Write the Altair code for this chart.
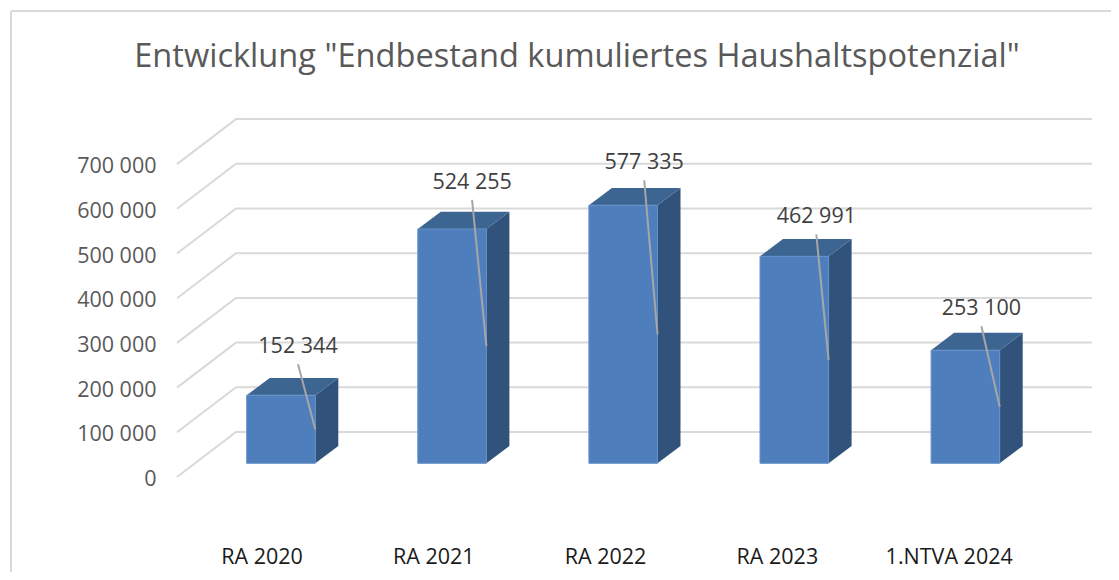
import altair as alt
import pandas as pd

categories = ["RA 2020", "RA 2021", "RA 2022", "RA 2023", "1.NTVA 2024"]
values = [152344, 524255, 577335, 462991, 253100]
value_labels = ["152 344", "524 255", "577 335", "462 991", "253 100"]
ticks = [0, 100000, 200000, 300000, 400000, 500000, 600000, 700000]
title = 'Entwicklung "Endbestand kumuliertes Haushaltspotenzial"'

# layout (plot-area pixels for x, value units for y)
W, H = 1100, 561
PX_PER_UNIT = 44.7 / 100000
ZERO_PAGE = 466            # plot-y of value 0 on the front edge
ydom = [(ZERO_PAGE - H) / PX_PER_UNIT, ZERO_PAGE / PX_PER_UNIT]
def dy(px):
    return px / PX_PER_UNIT

FLOOR_X0, FLOOR_X1, FLOOR_X2 = 166, 225, 1081
FLOOR_RISE = dy(45)
BAR_X0, BAR_W, PITCH = 235.7, 68.6, 171.1
BAR_DX, BAR_RISE, BAR_BASE = 23, dy(17.3), dy(13.7)
CAT_X0, CAT_PITCH, CAT_Y = 251, 171.8, dy(-81)
LABEL_DX = [17, 20, 21, 22, 16]
LABEL_DY = [48, 46, 42, 39, 41]
LEADER_GAP = 17

grid, front, side, top, labels, leaders, cats = [], [], [], [], [], [], []
for t in ticks:
    grid += [
        dict(t=t, o=0, x=FLOOR_X0, y=t),
        dict(t=t, o=1, x=FLOOR_X1, y=t + FLOOR_RISE),
        dict(t=t, o=2, x=FLOOR_X2, y=t + FLOOR_RISE),
    ]
for i, (c, v, lab) in enumerate(zip(categories, values, value_labels)):
    x0 = BAR_X0 + i * PITCH
    x1 = x0 + BAR_W
    yb = BAR_BASE
    yt = BAR_BASE + v
    front.append(dict(c=c, x=x0, x2=x1, y=yb, y2=yt))
    side += [
        dict(c=c, x=x1, y=yb, y2=yt),
        dict(c=c, x=x1 + BAR_DX, y=yb + BAR_RISE, y2=yt + BAR_RISE),
    ]
    top += [
        dict(c=c, y=yt, x=x0, x2=x1),
        dict(c=c, y=yt + BAR_RISE, x=x0 + BAR_DX, x2=x1 + BAR_DX),
    ]
    lx = x0 + BAR_W / 2 + LABEL_DX[i]
    ly = yt + dy(LABEL_DY[i])
    labels.append(dict(x=lx, y=ly, t=lab))
    leaders += [
        dict(c=c, o=0, x=lx, y=ly - dy(LEADER_GAP)),
        dict(c=c, o=1, x=x1, y=yb + v / 2),
    ]
    cats.append(dict(x=CAT_X0 + i * CAT_PITCH, y=CAT_Y, t=c))

FONT = "Open Sans"

xs = alt.Scale(domain=[0, W], range=[0, W], nice=False, zero=False)
ys = alt.Scale(domain=ydom, range=[H, 0], nice=False, zero=False)
y_axis = alt.Axis(
    values=ticks, domain=False, ticks=False, grid=False, title=None,
    labelExpr="replace(format(datum.value, ','), ',', ' ')",
    labelFont=FONT, labelFontSize=21.5, labelColor="#595959",
    labelPadding=0, labelOffset=2.5, offset=-145, labelBound=False, labelFlush=False,
)
X = lambda f="x": alt.X(f"{f}:Q", scale=xs, axis=None)
Y = lambda: alt.Y("y:Q", scale=ys, stack=None, axis=y_axis)

frame_left = alt.Chart(pd.DataFrame({"a": [0]})).mark_rule(color="#d9d9d9", strokeWidth=2).encode(
    x=alt.value(0), y=alt.value(0), y2=alt.value(H))
frame_top = alt.Chart(pd.DataFrame({"a": [0]})).mark_rule(color="#d9d9d9", strokeWidth=2).encode(
    y=alt.value(0), x=alt.value(0), x2=alt.value(W))

grid_layer = alt.Chart(pd.DataFrame(grid)).mark_line(color="#d9d9d9", strokeWidth=2).encode(
    x=X(), y=Y(), detail="t:N", order="o:Q")

side_layer = alt.Chart(pd.DataFrame(side)).mark_area(orient="vertical", color="#31527A").encode(
    x=X(), y=Y(), y2="y2:Q", detail="c:N")

top_layer = alt.Chart(pd.DataFrame(top)).mark_area(orient="horizontal", color="#3D6591").encode(
    y=Y(), x=X(), x2="x2:Q", detail="c:N")

front_layer = alt.Chart(pd.DataFrame(front)).mark_rect(
    color="#4E7FBC", stroke="#6491c8", strokeWidth=1
).encode(x=X(), x2="x2:Q", y=Y(), y2="y2:Q")

leader_layer = alt.Chart(pd.DataFrame(leaders)).mark_line(color="#a6a6a6", strokeWidth=2).encode(
    x=X(), y=Y(), detail="c:N", order="o:Q")

label_layer = alt.Chart(pd.DataFrame(labels)).mark_text(
    font=FONT, fontSize=21.5, color="#404040", align="center", baseline="middle"
).encode(x=X(), y=Y(), text="t:N")

cat_layer = alt.Chart(pd.DataFrame(cats)).mark_text(
    font=FONT, fontSize=21.5, color="#1a1a1a", align="center", baseline="middle"
).encode(x=X(), y=Y(), text="t:N")

chart = (
    alt.layer(frame_left, frame_top, grid_layer, side_layer, top_layer,
              front_layer, leader_layer, label_layer, cat_layer)
    .properties(
        width=W, height=H,
        padding={"left": 3, "top": 3, "right": 0, "bottom": 0},
        autosize=alt.AutoSizeParams(type="none"),
        background="white",
        title=alt.TitleParams(
            title, font=FONT, fontSize=32.6, fontWeight="normal", color="#595959",
            anchor="middle", dx=16, offset=-80, baseline="middle",
        ),
    )
    .configure_view(stroke=None)
)

chart.save("out.html", embed_options={"renderer": "svg", "actions": False})
